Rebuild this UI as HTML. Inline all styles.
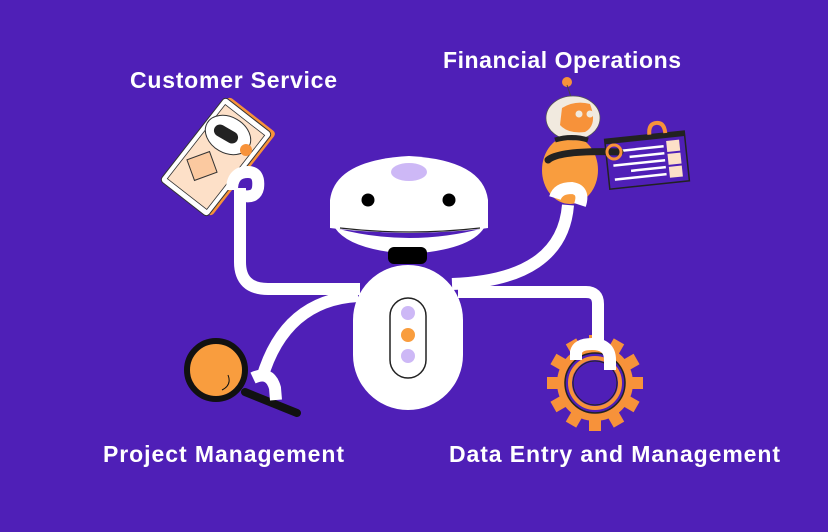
<!DOCTYPE html>
<html><head><style>
html,body{margin:0;padding:0;background:#4f1fb7;width:828px;height:532px;overflow:hidden}
text{font-family:"Liberation Sans",sans-serif;font-weight:bold;fill:#fff;font-size:23px}
</style></head><body>
<svg width="828" height="532" viewBox="0 0 828 532" xmlns="http://www.w3.org/2000/svg">
<rect width="828" height="532" fill="#4f1fb7"/>
<text x="130" y="88" textLength="207" lengthAdjust="spacing">Customer Service</text>
<text x="443" y="68" textLength="238" lengthAdjust="spacing">Financial Operations</text>
<text x="103" y="462" textLength="241" lengthAdjust="spacing">Project Management</text>
<text x="449" y="462" textLength="331" lengthAdjust="spacing">Data Entry and Management</text>

<!-- tablet -->
<g transform="translate(216,157) rotate(-52)">
<rect x="-53" y="-30" width="106" height="60" rx="4" fill="#f7923a" transform="translate(3,3)"/>
<rect x="-53" y="-30" width="106" height="60" rx="4" fill="#fff" stroke="#333" stroke-width="1"/>
<rect x="-47" y="-25" width="94" height="50" fill="#fde0c8" stroke="#333" stroke-width="0.8"/>
</g>
<ellipse cx="228" cy="135" rx="24" ry="18" fill="#fff" stroke="#333" transform="rotate(30 228 135)"/>
<rect x="213" y="128" width="26" height="12" rx="6" fill="#222" transform="rotate(30 226 134)"/>
<circle cx="246" cy="150" r="6" fill="#f7923a"/>
<rect x="190" y="155" width="24" height="22" fill="#fbc9a0" stroke="#333" transform="rotate(-20 202 166)"/>

<!-- gear -->
<g transform="translate(595,383)" fill="#f7923a">
<circle r="38"/>
<g id="t"><rect x="-6" y="-48" width="12" height="14"/></g>
<use href="#t" transform="rotate(30)"/><use href="#t" transform="rotate(60)"/><use href="#t" transform="rotate(90)"/><use href="#t" transform="rotate(120)"/><use href="#t" transform="rotate(150)"/><use href="#t" transform="rotate(180)"/><use href="#t" transform="rotate(210)"/><use href="#t" transform="rotate(240)"/><use href="#t" transform="rotate(270)"/><use href="#t" transform="rotate(300)"/><use href="#t" transform="rotate(330)"/>
<circle r="30" fill="#4f1fb7" stroke="#222" stroke-width="1.5"/>
<circle r="25" fill="#4f1fb7" stroke="#f7923a" stroke-width="4"/>
<circle r="22" fill="#4f1fb7" stroke="#222" stroke-width="1"/>
</g>

<!-- magnifier -->
<line x1="245" y1="392" x2="297" y2="413" stroke="#111" stroke-width="8" stroke-linecap="round"/>
<circle cx="216" cy="370" r="29" fill="#f99d3e" stroke="#111" stroke-width="6"/>
<path d="M228 375 Q232 385 222 390" stroke="#111" fill="none"/>

<!-- financial robot -->
<circle cx="567" cy="82" r="5" fill="#f7923a"/>
<line x1="567" y1="85" x2="572" y2="100" stroke="#444"/>
<ellipse cx="570" cy="170" rx="28" ry="34" fill="#f99d3e"/>
<ellipse cx="573" cy="118" rx="27" ry="22" fill="#f1eadf" stroke="#555" stroke-width="0.7"/>
<path d="M562 108 Q575 100 590 104 Q598 125 585 132 Q568 134 560 125 Z" fill="#f7923a"/>
<circle cx="579" cy="114" r="3.5" fill="#f1eadf"/><circle cx="590" cy="114" r="3.5" fill="#f1eadf"/>
<path d="M555 140 Q572 135 588 140" stroke="#222" stroke-width="5" fill="none"/>
<g transform="rotate(-6 648 160)">
<rect x="607" y="135" width="80" height="50" fill="#4f1fb7" stroke="#222" stroke-width="1.5"/>
<rect x="607" y="135" width="80" height="5" fill="#222"/>
<g stroke="#fff" stroke-width="2.5"><line x1="613" y1="148" x2="665" y2="148"/><line x1="630" y1="155" x2="665" y2="155"/><line x1="613" y1="162" x2="665" y2="162"/><line x1="630" y1="169" x2="665" y2="169"/><line x1="613" y1="176" x2="665" y2="176"/></g>
<rect x="668" y="143" width="13" height="11" fill="#fde0c8"/><rect x="668" y="156" width="13" height="11" fill="#fde0c8"/><rect x="668" y="169" width="13" height="11" fill="#fde0c8"/>
<path d="M652 135 Q652 124 660 124 Q668 124 668 135" stroke="#f7923a" stroke-width="4" fill="none"/>
</g>
<path d="M548 160 Q560 150 620 152" stroke="#222" stroke-width="7" fill="none" stroke-linecap="round"/>
<circle cx="614" cy="152" r="7" fill="none" stroke="#f7923a" stroke-width="3"/>

<!-- arms -->
<g stroke="#fff" stroke-width="12" fill="none" stroke-linecap="butt">
<path d="M360 289 L268 289 Q240 289 240 262 L240 188"/>
<path d="M232 190 Q232 172 248 172 Q260 172 258 188 Q256 198 244 196"/>
<path d="M358 296 Q285 300 262 378"/>
<path d="M253 378 Q270 370 275 388 L276 400"/>
<path d="M452 284 Q562 280 568 205"/>
<path d="M555 198 Q558 188 572 188 Q585 190 580 205"/>
<path d="M458 292 L586 292 Q598 292 598 304 L598 345"/>
<path d="M576 360 L576 352 Q578 344 592 344 Q610 344 610 360 L610 370"/>
</g>

<!-- robot -->
<path d="M330 200 Q335 160 409 156 Q483 160 488 200 L488 228 Q460 232 409 233 Q360 232 330 228 Z" fill="#fff"/>
<path d="M335 228 Q409 248 484 228 Q470 250 409 254 Q350 250 335 228 Z" fill="#fff"/>
<path d="M340 228 Q409 236 480 228" stroke="#222" stroke-width="1.2" fill="none"/>
<ellipse cx="409" cy="172" rx="18" ry="9" fill="#cdb8f6"/>
<circle cx="368" cy="200" r="6.5" fill="#000"/><circle cx="449" cy="200" r="6.5" fill="#000"/>
<rect x="388" y="247" width="39" height="17" rx="6" fill="#000"/>
<rect x="353" y="265" width="110" height="145" rx="55" fill="#fff"/>
<rect x="390" y="298" width="36" height="80" rx="18" fill="#fff" stroke="#222" stroke-width="1.5"/>
<circle cx="408" cy="313" r="7" fill="#cdb8f6"/><circle cx="408" cy="335" r="7" fill="#f99d3e"/><circle cx="408" cy="356" r="7" fill="#cdb8f6"/>
</svg>
</body></html>
